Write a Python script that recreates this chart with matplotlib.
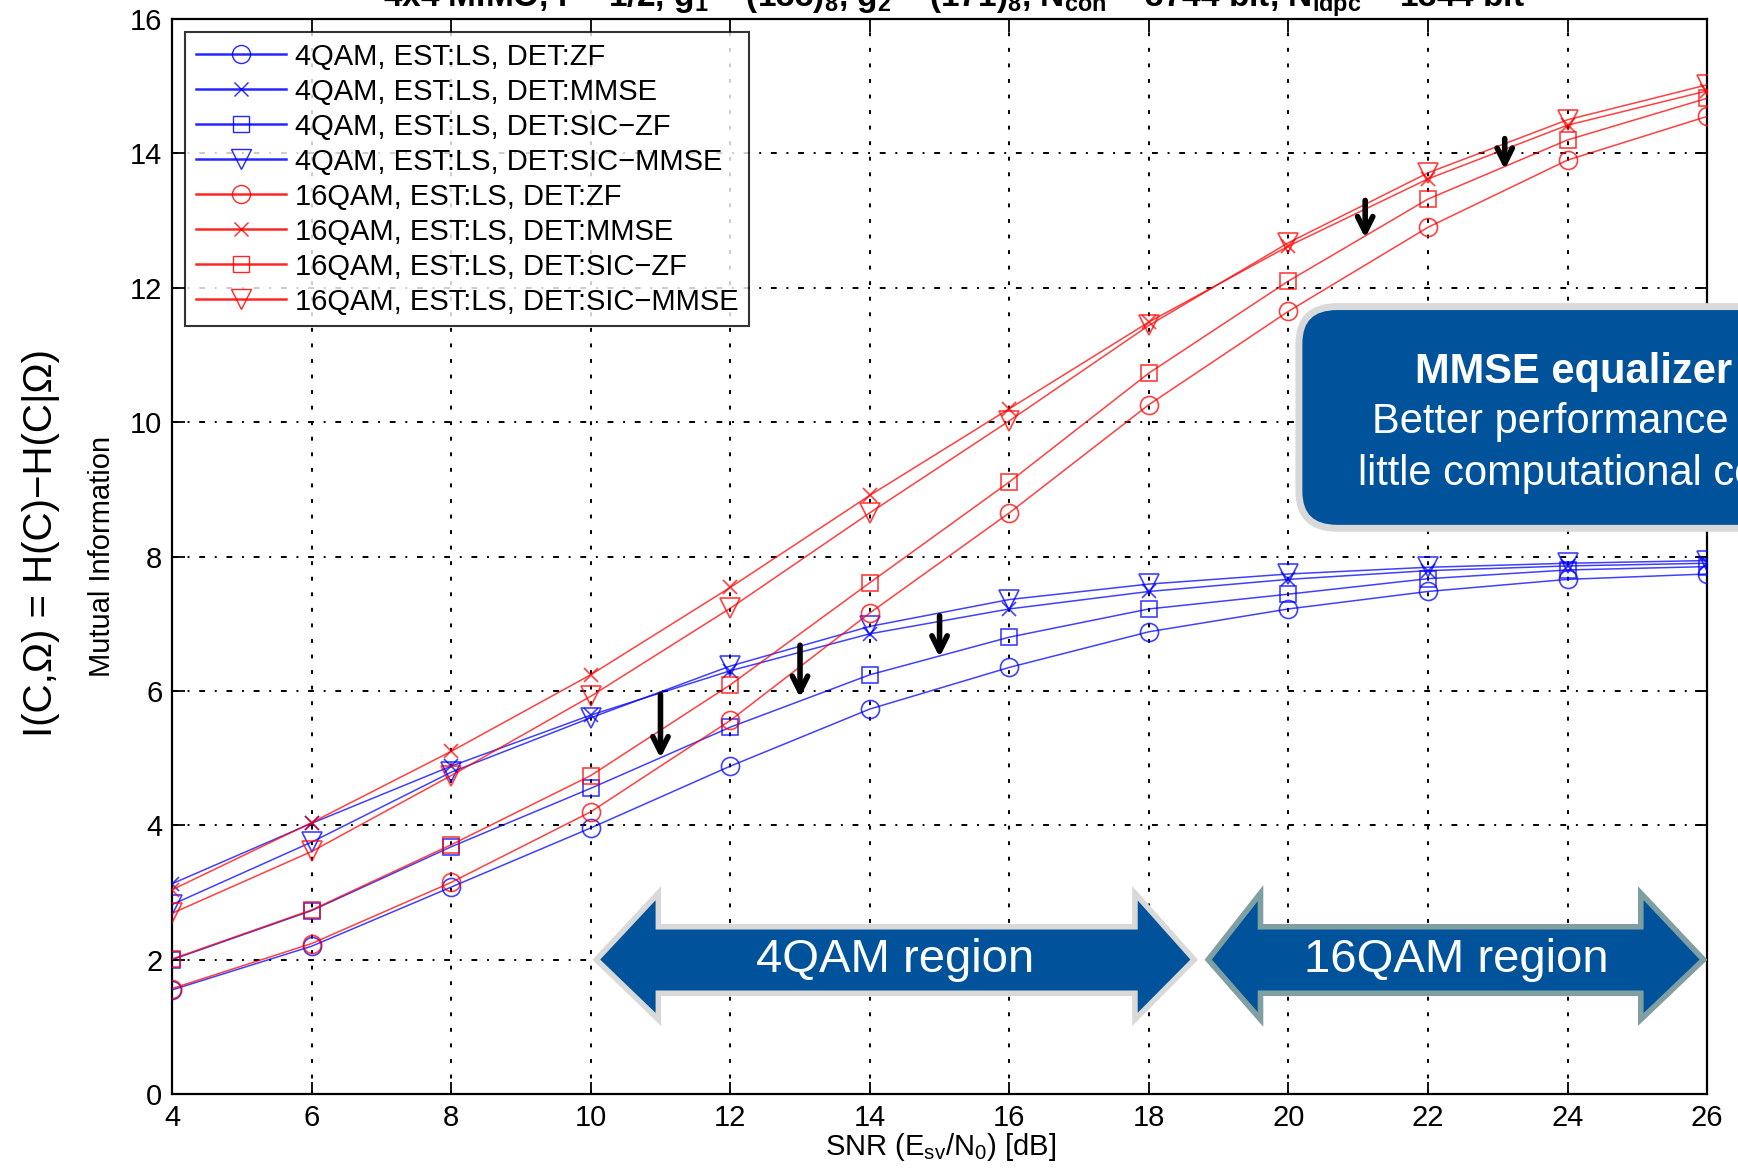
import matplotlib
matplotlib.use("Agg")
import matplotlib.pyplot as plt
from matplotlib.patches import Polygon, FancyBboxPatch
from matplotlib.lines import Line2D

plt.rcParams['font.family'] = ['Liberation Sans', 'DejaVu Sans']
plt.rcParams['mathtext.default'] = 'regular'

# ---------------- data ----------------
snr = [4, 6, 8, 10, 12, 14, 16, 18, 20, 22, 24, 26]

qam4_zf      = [1.55, 2.20, 3.08, 3.96, 4.88, 5.73, 6.35, 6.88, 7.22, 7.48, 7.66, 7.74]
qam4_mmse    = [3.13, 4.03, 4.88, 5.64, 6.30, 6.85, 7.22, 7.48, 7.66, 7.79, 7.86, 7.90]
qam4_siczf   = [2.00, 2.73, 3.68, 4.55, 5.46, 6.24, 6.80, 7.22, 7.44, 7.67, 7.80, 7.85]
qam4_sicmmse = [2.82, 3.75, 4.79, 5.60, 6.37, 6.96, 7.36, 7.59, 7.74, 7.84, 7.90, 7.94]

qam16_zf      = [1.57, 2.24, 3.15, 4.20, 5.56, 7.16, 8.65, 10.26, 11.65, 12.90, 13.90, 14.55]
qam16_mmse    = [3.04, 4.04, 5.10, 6.24, 7.54, 8.91, 10.20, 11.49, 12.62, 13.62, 14.42, 14.93]
qam16_siczf   = [2.01, 2.74, 3.71, 4.74, 6.09, 7.61, 9.11, 10.73, 12.10, 13.32, 14.20, 14.82]
qam16_sicmmse = [2.69, 3.61, 4.74, 5.92, 7.23, 8.65, 10.02, 11.44, 12.67, 13.71, 14.50, 15.02]

labels = ['4QAM, EST:LS, DET:ZF', '4QAM, EST:LS, DET:MMSE',
          '4QAM, EST:LS, DET:SIC\u2212ZF', '4QAM, EST:LS, DET:SIC\u2212MMSE',
          '16QAM, EST:LS, DET:ZF', '16QAM, EST:LS, DET:MMSE',
          '16QAM, EST:LS, DET:SIC\u2212ZF', '16QAM, EST:LS, DET:SIC\u2212MMSE']

xticks = [4, 6, 8, 10, 12, 14, 16, 18, 20, 22, 24, 26]
yticks = [0, 2, 4, 6, 8, 10, 12, 14, 16]

# annotation arrows (x, tail y, head y)
arrow_x    = [11.0, 13.0, 15.0, 21.1, 23.1]
arrow_tail = [5.95, 6.68, 7.12, 13.30, 14.22]
arrow_head = [5.00, 5.90, 6.50, 12.74, 13.76]

# region block arrows: (left tip, left head base, right head base, right tip)
region_names = ['4QAM region', '16QAM region']
region_x = [(10.08, 10.97, 17.80, 18.65), (18.85, 19.60, 25.05, 25.95)]
region_edge = ['#d9d9d9', '#809fa3']

# ---------------- figure ----------------
fig = plt.figure(figsize=(17.38, 11.73), dpi=100)
ax = fig.add_axes([0.099, 0.0673, 0.8832, 0.9165])

blue = '#0000ff'
red = '#ff0000'
series = [(qam4_zf, blue, 'o'), (qam4_mmse, blue, 'x'), (qam4_siczf, blue, 's'),
          (qam4_sicmmse, blue, 'v'),
          (qam16_zf, red, 'o'), (qam16_mmse, red, 'x'), (qam16_siczf, red, 's'),
          (qam16_sicmmse, red, 'v')]
msize = {'o': 13, 'x': 10, 's': 12, 'v': 14}
for (ys, c, m), lab in zip(series, labels):
    ax.plot(snr, ys, color=c, marker=m, markersize=msize[m],
            markerfacecolor='none', markeredgecolor=c, markeredgewidth=1.2,
            lw=1.1, alpha=0.75, label=lab, zorder=3)

ax.set_xlim(4, 26)
ax.set_ylim(0, 16)
ax.set_xticks(xticks)
ax.set_yticks(yticks)
ax.tick_params(direction='in', length=9, width=1.3, top=True, right=True,
               labelsize=21, pad=7)
for sp in ax.spines.values():
    sp.set_linewidth(1.6)

for xv in xticks[1:-1]:
    ax.axvline(xv, color='black', lw=1.4, ls=(0, (2, 6)), zorder=1)
for yv in yticks[1:-1]:
    ax.axhline(yv, color='black', lw=1.4, ls=(0, (3, 5, 1, 5)), zorder=1)

# legend
leg_handles = [Line2D([0], [0], color=c, marker=m, markersize=msize[m],
                      markerfacecolor='none', markeredgecolor=c, lw=1.8, alpha=0.85)
               for (_, c, m) in series]
leg = ax.legend(leg_handles, labels, loc='upper left', bbox_to_anchor=(0.0087, 0.9876),
                borderaxespad=0, fontsize=21, frameon=True, fancybox=False,
                edgecolor='black', handlelength=3.1, handletextpad=0.3,
                labelspacing=0.24, borderpad=0.35)
leg.get_frame().set_linewidth(1.5)
leg.set_zorder(5)

# black arrows
for xa, yt, yh in zip(arrow_x, arrow_tail, arrow_head):
    ax.annotate('', xy=(xa, yh), xytext=(xa, yt),
                arrowprops=dict(arrowstyle='->, head_length=1.1, head_width=0.55',
                                lw=4.0, color='black', shrinkA=0, shrinkB=0),
                zorder=6)

# region block arrows
y_out_top, y_sh_top, y_mid, y_sh_bot, y_out_bot = 2.99, 2.49, 2.0, 1.50, 1.11
for name, (xl, xlb, xrb, xr), ec in zip(region_names, region_x, region_edge):
    pts = [(xl, y_mid), (xlb, y_out_top), (xlb, y_sh_top), (xrb, y_sh_top),
           (xrb, y_out_top), (xr, y_mid), (xrb, y_out_bot), (xrb, y_sh_bot),
           (xlb, y_sh_bot), (xlb, y_out_bot)]
    poly = Polygon(pts, closed=True, facecolor='#00539b', edgecolor=ec, lw=4,
                   joinstyle='miter', zorder=7)
    ax.add_patch(poly)
    ax.text((xl + xr) / 2, y_mid, name, color='white', fontsize=34,
            ha='center', va='center', zorder=8)

# MMSE box
box = FancyBboxPatch((20.15, 8.42), 8.0, 3.30,
                     boxstyle='round,pad=0,rounding_size=0.55',
                     facecolor='#00539b', edgecolor='#d9d9d9', lw=5,
                     clip_on=False, zorder=7)
ax.add_patch(box)
cx = 1573.5 / 1738
fig.text(cx, 1 - 383 / 1173, 'MMSE equalizer', color='white', fontsize=30,
         fontweight='bold', ha='center', va='baseline', zorder=9)
fig.text(cx, 1 - 433 / 1173, 'Better performance at', color='white', fontsize=30,
         ha='center', va='baseline', zorder=9)
fig.text(cx, 1 - 485 / 1173, 'little computational cost', color='white', fontsize=30,
         ha='center', va='baseline', zorder=9)

# labels
fig.text(0.0587, 0.526, 'Mutual Information', rotation=90, fontsize=21,
         ha='center', va='center')
fig.text(0.0235, 0.537, 'I(C,\u03a9) = H(C)\u2212H(C|\u03a9)', rotation=90, fontsize=29,
         ha='center', va='center')
fig.text(0.541, 0.022, r'SNR (E$_{sv}$/N$_0$) [dB]', fontsize=21, ha='center',
         va='center')
fig.text(0.549, 1 - 7 / 1173,
         r'4x4 MIMO, r = 1/2, g$_1$ = (133)$_8$, g$_2$ = (171)$_8$, N$_{coh}$ = 3744 bit, N$_{ldpc}$ = 1344 bit',
         fontsize=24, fontweight='bold', ha='center', va='baseline')

fig.savefig('out.png', dpi=100)
